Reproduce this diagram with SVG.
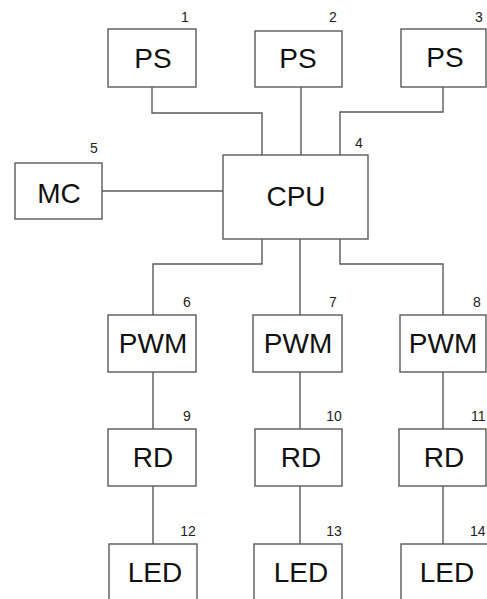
<svg xmlns="http://www.w3.org/2000/svg" width="487" height="599" viewBox="0 0 487 599">
<style>
.box{fill:#fff;stroke:#5a5a5a;stroke-width:1.4}
.wire{fill:none;stroke:#5a5a5a;stroke-width:1.4}
.lbl{font-family:"Liberation Sans",Arial,sans-serif;font-size:28px;fill:#111;text-anchor:middle}
.num{font-family:"Liberation Sans",Arial,sans-serif;font-size:14px;fill:#222;text-anchor:middle}
</style>
<rect width="487" height="599" fill="#fff"/>
<g id="connectors">
<path class="wire" d="M152,87 V113 H262 V155"/>
<path class="wire" d="M301,87 V155"/>
<path class="wire" d="M443,87 V112 H340 V155"/>
<path class="wire" d="M102,191 H223"/>
<path class="wire" d="M262,239 V264 H153 V315"/>
<path class="wire" d="M300,239 V315"/>
<path class="wire" d="M340,239 V264 H443 V315"/>
<path class="wire" d="M153,372 V429"/>
<path class="wire" d="M300,372 V429"/>
<path class="wire" d="M443,372 V429"/>
<path class="wire" d="M153,486 V544"/>
<path class="wire" d="M300,486 V544"/>
<path class="wire" d="M443,486 V544"/>
</g>
<g id="ps1"><rect class="box" x="108" y="29" width="88" height="58"/><text class="lbl" x="153" y="68">PS</text><text class="num" x="185" y="22">1</text></g>
<g id="ps2"><rect class="box" x="255" y="31" width="87" height="56"/><text class="lbl" x="298" y="68">PS</text><text class="num" x="333" y="22">2</text></g>
<g id="ps3"><rect class="box" x="401" y="29" width="85" height="58"/><text class="lbl" x="445" y="67">PS</text><text class="num" x="479" y="22">3</text></g>
<g id="cpu"><rect class="box" x="223" y="155" width="145" height="84"/><text class="lbl" x="296" y="206">CPU</text><text class="num" x="359" y="148">4</text></g>
<g id="mc"><rect class="box" x="15" y="163" width="87" height="56"/><text class="lbl" x="59" y="203">MC</text><text class="num" x="94" y="153">5</text></g>
<g id="pwm6"><rect class="box" x="108" y="315" width="88" height="57"/><text class="lbl" x="153" y="353">PWM</text><text class="num" x="187" y="307">6</text></g>
<g id="pwm7"><rect class="box" x="253" y="315" width="89" height="57"/><text class="lbl" x="298" y="353">PWM</text><text class="num" x="333" y="307">7</text></g>
<g id="pwm8"><rect class="box" x="400" y="315" width="86" height="57"/><text class="lbl" x="443" y="353">PWM</text><text class="num" x="477" y="307">8</text></g>
<g id="rd9"><rect class="box" x="108" y="429" width="88" height="57"/><text class="lbl" x="153" y="467">RD</text><text class="num" x="187" y="421">9</text></g>
<g id="rd10"><rect class="box" x="255" y="429" width="87" height="57"/><text class="lbl" x="301" y="467">RD</text><text class="num" x="334" y="421">10</text></g>
<g id="rd11"><rect class="box" x="399" y="429" width="87" height="57"/><text class="lbl" x="444" y="467">RD</text><text class="num" x="471" y="421" style="text-anchor:start">11</text></g>
<g id="led12"><rect class="box" x="109" y="544" width="88" height="60"/><text class="lbl" x="155" y="582">LED</text><text class="num" x="188" y="536">12</text></g>
<g id="led13"><rect class="box" x="254" y="544" width="88" height="60"/><text class="lbl" x="301" y="582">LED</text><text class="num" x="334" y="536">13</text></g>
<g id="led14"><rect class="box" x="401" y="544" width="90" height="60"/><text class="lbl" x="447" y="582">LED</text><text class="num" x="470" y="536" style="text-anchor:start">14</text></g>
</svg>
